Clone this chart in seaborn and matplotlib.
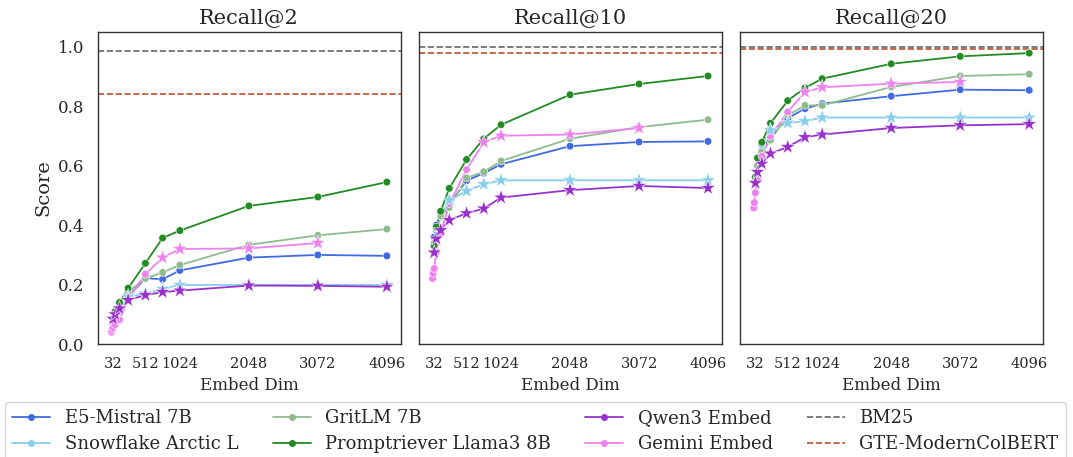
import pandas as pd
import matplotlib.pyplot as plt
import seaborn as sns
from matplotlib.lines import Line2D

sns.set_theme(style='white')
plt.rcParams['font.family'] = ['DejaVu Serif']

dims_full = [32, 64, 128, 256, 512, 768, 1024, 2048, 3072, 4096]
dims_gemini = [8, 16, 32, 64, 128, 256, 512, 768, 1024, 2048, 3072]

panels = ['Recall@2', 'Recall@10', 'Recall@20']
models = ['E5-Mistral 7B', 'Snowflake Arctic L', 'GritLM 7B',
          'Promptriever Llama3 8B', 'Qwen3 Embed', 'Gemini Embed']
colors = ['#4169E1', '#87CEEB', '#8FBC8F', '#228B22', '#9932CC', '#EE82EE']

# scores per model, one list per panel
e5 = [[0.08, 0.10, 0.12, 0.16, 0.222, 0.218, 0.248, 0.291, 0.300, 0.297],
      [0.36, 0.40, 0.44, 0.47, 0.550, 0.575, 0.605, 0.666, 0.680, 0.682],
      [0.55, 0.60, 0.65, 0.70, 0.760, 0.792, 0.809, 0.834, 0.856, 0.854]]
snowflake = [[0.08, 0.10, 0.13, 0.16, 0.170, 0.186, 0.199, 0.199, 0.199, 0.199],
             [0.33, 0.38, 0.43, 0.484, 0.515, 0.538, 0.551, 0.551, 0.551, 0.551],
             [0.55, 0.60, 0.67, 0.719, 0.744, 0.750, 0.762, 0.762, 0.762, 0.762]]
gritlm = [[0.08, 0.10, 0.14, 0.175, 0.221, 0.241, 0.266, 0.334, 0.366, 0.387],
          [0.34, 0.39, 0.43, 0.46, 0.559, 0.580, 0.616, 0.691, 0.730, 0.755],
          [0.55, 0.60, 0.646, 0.686, 0.770, 0.803, 0.803, 0.865, 0.902, 0.908]]
promptriever = [[0.085, 0.11, 0.14, 0.188, 0.272, 0.357, 0.382, 0.465, 0.495, 0.545],
                [0.33, 0.394, 0.447, 0.524, 0.621, 0.691, 0.738, 0.839, 0.875, 0.902],
                [0.562, 0.626, 0.679, 0.743, 0.819, 0.862, 0.893, 0.943, 0.968, 0.979]]
qwen3 = [[0.085, 0.10, 0.12, 0.148, 0.165, 0.175, 0.180, 0.197, 0.196, 0.193],
         [0.308, 0.355, 0.383, 0.417, 0.440, 0.456, 0.493, 0.518, 0.532, 0.525],
         [0.542, 0.579, 0.607, 0.641, 0.663, 0.696, 0.705, 0.727, 0.736, 0.740]]
gemini = [[0.04, 0.048, 0.056, 0.065, 0.082, 0.15, 0.235, 0.291, 0.320, 0.322, 0.340],
          [0.221, 0.238, 0.254, 0.31, 0.374, 0.472, 0.587, 0.679, 0.701, 0.705, 0.727],
          [0.458, 0.476, 0.509, 0.551, 0.632, 0.699, 0.781, 0.848, 0.864, 0.876, 0.882]]

# dims drawn with a star marker
star_dims = {'E5-Mistral 7B': [], 'GritLM 7B': [], 'Promptriever Llama3 8B': [],
             'Snowflake Arctic L': [256, 512, 768, 1024, 2048, 3072, 4096],
             'Qwen3 Embed': dims_full,
             'Gemini Embed': [768, 1024, 2048, 3072]}

bm25 = [0.985, 1.0, 1.0]
gte_colbert = [0.84, 0.978, 0.993]

series = {'E5-Mistral 7B': (dims_full, e5), 'Snowflake Arctic L': (dims_full, snowflake),
          'GritLM 7B': (dims_full, gritlm), 'Promptriever Llama3 8B': (dims_full, promptriever),
          'Qwen3 Embed': (dims_full, qwen3), 'Gemini Embed': (dims_gemini, gemini)}

rows = []
for m, (dims, vals) in series.items():
    for p, panel in enumerate(panels):
        for d, v in zip(dims, vals[p]):
            rows.append({'model': m, 'panel': panel, 'dim': d, 'score': v,
                         'star': d in star_dims[m]})
df = pd.DataFrame(rows)
palette = dict(zip(models, colors))

fig, axes = plt.subplots(1, 3, figsize=(10.73, 4.57), dpi=100, sharey=True)
fig.subplots_adjust(left=0.091, right=0.972, top=0.93, bottom=0.247, wspace=0.06)

for i, (ax, panel) in enumerate(zip(axes, panels)):
    sub = df[df.panel == panel]
    sns.lineplot(data=sub, x='dim', y='score', hue='model', hue_order=models,
                 palette=palette, linewidth=1.3, legend=False, ax=ax)
    sns.scatterplot(data=sub[~sub.star], x='dim', y='score', hue='model', hue_order=models,
                    palette=palette, marker='o', s=30, edgecolor='white', linewidth=0.4,
                    legend=False, ax=ax, zorder=3)
    sns.scatterplot(data=sub[sub.star], x='dim', y='score', hue='model', hue_order=models,
                    palette=palette, marker='*', s=130, edgecolor='white', linewidth=0.4,
                    legend=False, ax=ax, zorder=3)
    ax.axhline(bm25[i], color='#666666', linestyle='--', linewidth=1.2)
    ax.axhline(gte_colbert[i], color='#B5512F', linestyle='--', linewidth=1.2)
    ax.set_title(panel, fontsize=15)
    ax.set_xticks([32, 512, 1024, 2048, 3072, 4096])
    ax.tick_params(axis='x', labelsize=10.5)
    ax.tick_params(axis='y', labelsize=12)
    ax.set_xlabel('Embed Dim', fontsize=12)
    ax.set_ylim(0, 1.05)
    for s in ax.spines.values():
        s.set_color('#333333')
        s.set_linewidth(1.0)

axes[0].set_ylabel('Score', fontsize=14)
axes[0].set_yticks([0.0, 0.2, 0.4, 0.6, 0.8, 1.0])

handles = [Line2D([0], [0], color=c, marker='o', markersize=4, linewidth=1.3) for c in colors]
handles += [Line2D([0], [0], color='#666666', linestyle='--', linewidth=1.2),
            Line2D([0], [0], color='#B5512F', linestyle='--', linewidth=1.2)]
labels = models + ['BM25', 'GTE-ModernColBERT']
fig.legend(handles, labels, loc='upper center', bbox_to_anchor=(0.499, 0.14), ncol=4,
           fontsize=13, frameon=True, columnspacing=1.9, handlelength=2.1,
           labelspacing=0.45)

fig.savefig('out.png', dpi=100)
